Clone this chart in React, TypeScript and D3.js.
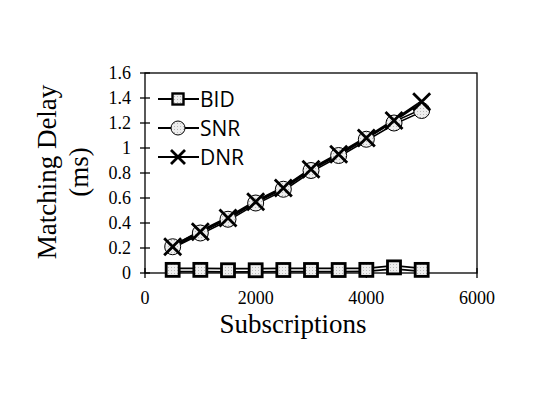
import React, { useEffect, useRef } from "react"
import * as d3 from "d3"

const subs = [500, 1000, 1500, 2000, 2500, 3000, 3500, 4000, 4500, 5000]
const bid = [0.025, 0.025, 0.022, 0.022, 0.024, 0.024, 0.024, 0.025, 0.045, 0.025]
const snr = [0.21, 0.32, 0.43, 0.56, 0.67, 0.82, 0.94, 1.07, 1.2, 1.3]
const dnr = [0.21, 0.33, 0.44, 0.57, 0.68, 0.83, 0.95, 1.08, 1.22, 1.37]
const xTicks = [0, 2000, 4000, 6000]
const yTicks = [0, 0.2, 0.4, 0.6, 0.8, 1, 1.2, 1.4, 1.6]
const seriesNames = ["BID", "SNR", "DNR"]

const App = () => {
    const ref = useRef<SVGSVGElement>(null)

    useEffect(() => {
        const svg = d3.select(ref.current)
        svg.selectAll("*").remove()
        const left = 145, right = 477, top = 73, bottom = 273
        const x = d3.scaleLinear().domain([0, 6000]).range([left, right])
        const y = d3.scaleLinear().domain([0, 1.6]).range([bottom, top])
        const serif = "'Liberation Serif', 'Times New Roman', serif"
        const sans = "'Open Sans', 'Liberation Sans', sans-serif"

        const defs = svg.append("defs")
        const pat = defs.append("pattern")
            .attr("id", "dots")
            .attr("width", 3).attr("height", 3)
            .attr("patternUnits", "userSpaceOnUse")
        pat.append("rect").attr("width", 3).attr("height", 3).attr("fill", "#eeeeee")
        pat.append("rect").attr("width", 1).attr("height", 1).attr("fill", "#b8b8b8")

        // frame
        svg.append("rect")
            .attr("x", left).attr("y", top)
            .attr("width", right - left).attr("height", bottom - top)
            .attr("fill", "none").attr("stroke", "black").attr("stroke-width", 1.3)

        // y ticks
        yTicks.forEach(t => {
            svg.append("line")
                .attr("x1", left - 5).attr("x2", left + 5)
                .attr("y1", y(t)).attr("y2", y(t))
                .attr("stroke", "black").attr("stroke-width", 1.3)
            svg.append("text")
                .attr("x", left - 14).attr("y", y(t) + 6)
                .attr("text-anchor", "end")
                .attr("font-family", serif).attr("font-size", 18)
                .text(String(t))
        })
        // x ticks
        xTicks.forEach(t => {
            svg.append("line")
                .attr("x1", x(t)).attr("x2", x(t))
                .attr("y1", bottom - 5).attr("y2", bottom + 5)
                .attr("stroke", "black").attr("stroke-width", 1.3)
            svg.append("text")
                .attr("x", x(t)).attr("y", bottom + 31)
                .attr("text-anchor", "middle")
                .attr("font-family", serif).attr("font-size", 18)
                .text(String(t))
        })

        svg.append("text")
            .attr("x", 293).attr("y", 333)
            .attr("text-anchor", "middle")
            .attr("font-family", serif).attr("font-size", 27)
            .text("Subscriptions")
        const yt = svg.append("text")
            .attr("transform", "translate(56,172) rotate(-90)")
            .attr("text-anchor", "middle")
            .attr("font-family", serif).attr("font-size", 27)
        yt.append("tspan").attr("x", 0).attr("y", 0).text("Matching Delay")
        yt.append("tspan").attr("x", 0).attr("y", 32).text("(ms)")

        const line = d3.line<number>()
            .x((d, i) => x(subs[i]))
            .y(d => y(d))

        // BID double line
        svg.append("path").attr("d", line(bid)).attr("fill", "none")
            .attr("stroke", "black").attr("stroke-width", 5)
        svg.append("path").attr("d", line(bid)).attr("fill", "none")
            .attr("stroke", "white").attr("stroke-width", 1.5)
        // SNR
        svg.append("path").attr("d", line(snr)).attr("fill", "none")
            .attr("stroke", "black").attr("stroke-width", 4)
        svg.append("path").attr("d", line(snr)).attr("fill", "none")
            .attr("stroke", "white").attr("stroke-width", 1)
        // DNR
        svg.append("path").attr("d", line(dnr)).attr("fill", "none")
            .attr("stroke", "black").attr("stroke-width", 3.2)

        const drawSquare = (g, cx, cy, s = 6.5, w = 2.8) => {
            g.append("rect")
                .attr("x", cx - s).attr("y", cy - s)
                .attr("width", 2 * s).attr("height", 2 * s)
                .attr("fill", "url(#dots)")
                .attr("stroke", "black").attr("stroke-width", w)
        }
        const drawCircle = (g, cx, cy, r = 8) => {
            g.append("circle")
                .attr("cx", cx).attr("cy", cy).attr("r", r)
                .attr("fill", "url(#dots)")
                .attr("stroke", "black").attr("stroke-width", 1)
        }
        const drawCross = (g, cx, cy, s = 8.5) => {
            g.append("path")
                .attr("d", `M${cx - s},${cy - s}L${cx + s},${cy + s}M${cx - s},${cy + s}L${cx + s},${cy - s}`)
                .attr("stroke", "black").attr("stroke-width", 2.8)
                .attr("fill", "none")
        }

        bid.forEach((v, i) => drawSquare(svg, x(subs[i]), y(v)))
        snr.forEach((v, i) => drawCircle(svg, x(subs[i]), y(v)))
        dnr.forEach((v, i) => drawCross(svg, x(subs[i]), y(v)))

        // legend
        const legY = [99, 128, 157]
        seriesNames.forEach((name, i) => {
            const ly = legY[i]
            svg.append("line").attr("x1", 158).attr("x2", 199)
                .attr("y1", ly).attr("y2", ly)
                .attr("stroke", "black").attr("stroke-width", 2.2)
            if (i === 0) drawSquare(svg, 178, ly, 5.5, 2.4)
            else if (i === 1) drawCircle(svg, 178, ly, 7)
            else drawCross(svg, 178, ly, 7)
            svg.append("text")
                .attr("x", 200).attr("y", ly + 7.5)
                .attr("font-family", sans).attr("font-size", 21)
                .text(name)
        })
    }, [])

    return <svg ref={ref} width={538} height={409} style={{ display: "block", margin: "-8px" }} />
}

export default App
